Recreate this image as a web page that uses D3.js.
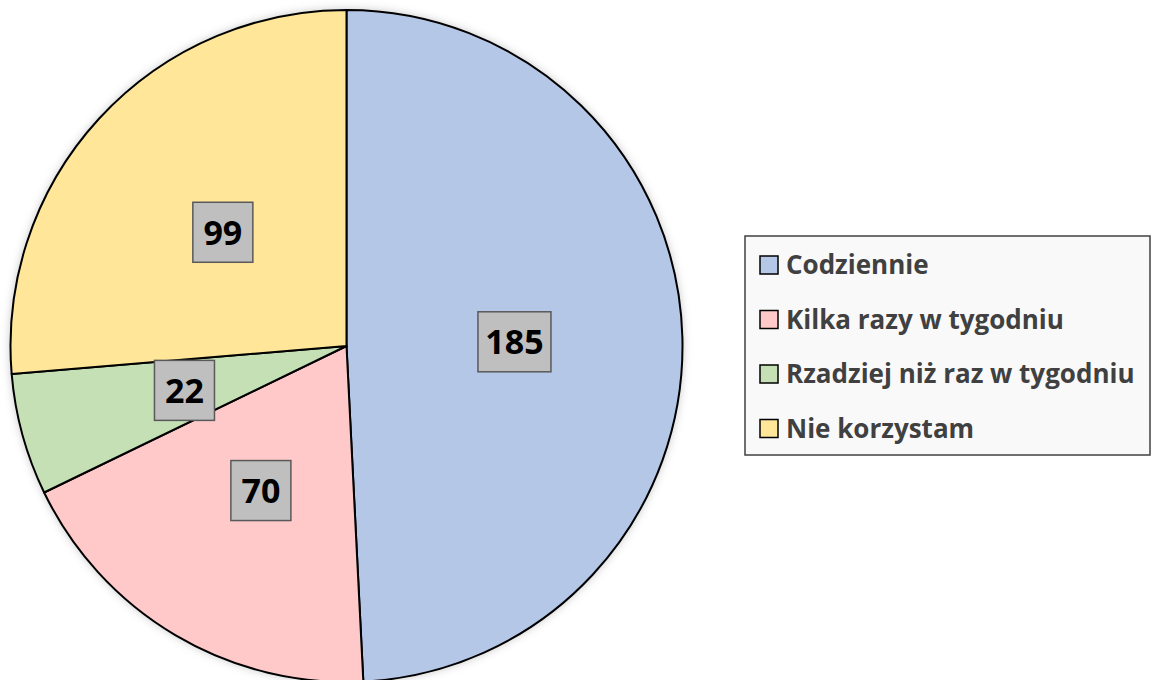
<!DOCTYPE html>
<meta charset="utf-8" />
<script src="https://d3js.org/d3.v7.min.js"></script>
<style>
  body { margin: 0; background: #fff; }
</style>
<body>
  <div id="chart"></div>
</body>
<script>
  // data
  var categories = ["Codziennie", "Kilka razy w tygodniu", "Rzadziej niż raz w tygodniu", "Nie korzystam"];
  var values = [185, 70, 22, 99];
  var colors = ["#b4c7e7", "#ffc9c9", "#c5e0b4", "#ffe699"];

  var width = 1154, height = 680;
  var cx = 346.5, cy = 346, radius = 336;

  var svg = d3.select("#chart").append("svg")
    .attr("width", width)
    .attr("height", height);

  // soft shadow round the pie
  var defs = svg.append("defs");
  var filter = defs.append("filter").attr("id", "shadow")
    .attr("x", "-10%").attr("y", "-10%").attr("width", "120%").attr("height", "120%");
  filter.append("feDropShadow")
    .attr("dx", 0).attr("dy", 0).attr("stdDeviation", 5)
    .attr("flood-color", "#000").attr("flood-opacity", 0.25);

  var data = categories.map(function (c, i) {
    return { name: c, value: values[i], color: colors[i] };
  });

  var pie = d3.pie().sort(null).value(function (d) { return d.value; });
  var arc = d3.arc().innerRadius(0).outerRadius(radius);

  var g = svg.append("g").attr("transform", "translate(" + cx + "," + cy + ")");

  g.append("circle").attr("r", radius).attr("fill", "#fff").attr("filter", "url(#shadow)");

  var arcs = pie(data);

  g.selectAll("path.slice")
    .data(arcs)
    .enter()
    .append("path")
    .attr("class", "slice")
    .attr("d", arc)
    .attr("fill", function (d) { return d.data.color; })
    .attr("stroke", "#000")
    .attr("stroke-width", 2)
    .attr("stroke-linejoin", "round");

  // value labels in grey boxes
  var font = "'Open Sans', Lato, sans-serif";
  var labels = g.selectAll("g.label")
    .data(arcs)
    .enter()
    .append("g")
    .attr("class", "label")
    .attr("transform", function (d) {
      var c = arc.centroid(d);
      return "translate(" + c[0] + "," + c[1] + ")";
    });

  labels.append("rect")
    .attr("x", function (d) { return String(d.data.value).length > 2 ? -36.5 : -30; })
    .attr("y", -30)
    .attr("width", function (d) { return String(d.data.value).length > 2 ? 73 : 60; })
    .attr("height", 60)
    .attr("fill", "#bfbfbf")
    .attr("stroke", "#595959")
    .attr("stroke-width", 1.5);

  labels.append("text")
    .attr("text-anchor", "middle")
    .attr("dy", "0.36em")
    .style("font-family", font)
    .style("font-weight", "bold")
    .style("font-size", "34px")
    .attr("fill", "#000")
    .text(function (d) { return d.data.value; });

  // legend
  var legend = svg.append("g").attr("transform", "translate(745,236)");
  legend.append("rect")
    .attr("width", 405).attr("height", 219)
    .attr("fill", "#f9f9f9")
    .attr("stroke", "#404040")
    .attr("stroke-width", 1.5);

  var item = legend.selectAll("g.item")
    .data(data)
    .enter()
    .append("g")
    .attr("class", "item")
    .attr("transform", function (d, i) { return "translate(15," + (29 + i * 54.5) + ")"; });

  item.append("rect")
    .attr("x", 0).attr("y", -9)
    .attr("width", 18).attr("height", 18)
    .attr("fill", function (d) { return d.color; })
    .attr("stroke", "#000")
    .attr("stroke-width", 1.5);

  item.append("text")
    .attr("x", 26)
    .attr("dy", "0.36em")
    .style("font-family", font)
    .style("font-weight", "bold")
    .style("font-size", "26px")
    .attr("fill", "#404040")
    .text(function (d) { return d.name; });
</script>
